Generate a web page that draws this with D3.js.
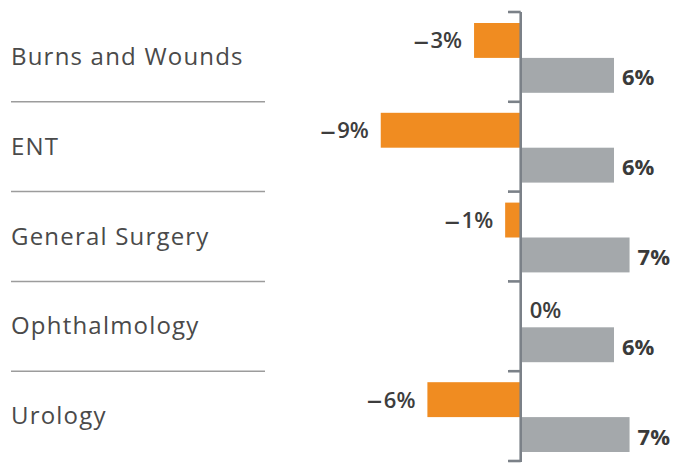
<!DOCTYPE html>
<html><head><meta charset="utf-8">
<script src="https://cdn.jsdelivr.net/npm/d3@7"></script>
<style>body{margin:0;background:#fff}svg{display:block}</style>
</head><body><svg id="c" width="676" height="463"></svg>
<script>
const categories = ["Burns and Wounds","ENT","General Surgery","Ophthalmology","Urology"];
const seriesNames = ["orange","grey"];
const orangeValues = [-3,-9,-1,0,-6];
const greyValues = [6,6,7,6,7];
const labelsOrange = ["\u20133%","\u20139%","\u20131%","0%","\u20136%"];
const labelsGrey = ["6%","6%","7%","6%","7%"];

const svg = d3.select("#c");
const font = "'Open Sans', Lato, sans-serif";
const axisX = 520.7;
const pxPer = 15.55;
const x = d3.scaleLinear().domain([-10, 8]).range([axisX - 10*pxPer, axisX + 8*pxPer]);
const y = d3.scaleBand().domain(categories).range([12, 461]).paddingInner(0);
const ys = d3.scaleBand().domain(seriesNames).range([11, y.bandwidth() - 9]).paddingInner(0);

// separators
const bounds = categories.slice(1).map(c => y(c));
svg.selectAll("line.sep").data(bounds).join("line")
  .attr("x1", 11).attr("x2", 265).attr("y1", d => d).attr("y2", d => d)
  .attr("stroke", "#9c9c9c").attr("stroke-width", 1.5);

// category labels
svg.selectAll("text.cat").data(categories).join("text")
  .attr("x", 11).attr("y", d => y(d) + y.bandwidth()/2 + 8)
  .attr("font-family", font).attr("font-size", 24).attr("letter-spacing", 1.2).attr("fill", "#4a4a4a")
  .text(d => d);

const rows = categories.map((c,i) => ({c, o: orangeValues[i], g: greyValues[i], lo: labelsOrange[i], lg: labelsGrey[i]}));

// orange bars
svg.selectAll("rect.o").data(rows.filter(d => d.o !== 0)).join("rect")
  .attr("x", d => x(d.o)).attr("width", d => x(0) - x(d.o))
  .attr("y", d => y(d.c) + ys("orange")).attr("height", ys.bandwidth())
  .attr("fill", "#F08C21");
// grey bars
svg.selectAll("rect.g").data(rows).join("rect")
  .attr("x", x(0)).attr("width", d => x(d.g) - x(0))
  .attr("y", d => y(d.c) + ys("grey")).attr("height", ys.bandwidth())
  .attr("fill", "#A4A8AB");

// axis
const ticks = categories.map(c => y(c)).concat([y.range()[1]]);
svg.append("line").attr("x1", axisX).attr("x2", axisX).attr("y1", 12).attr("y2", 462)
  .attr("stroke", "#7b8188").attr("stroke-width", 2.6);
svg.selectAll("line.tk").data(ticks).join("line")
  .attr("x1", 508).attr("x2", axisX).attr("y1", d => d).attr("y2", d => d)
  .attr("stroke", "#7b8188").attr("stroke-width", 2.6);

// value labels orange
const lo = svg.selectAll("text.lo").data(rows).join("text")
  .attr("x", d => d.o === 0 ? x(0) + 9 : x(d.o) - 12)
  .attr("y", d => y(d.c) + ys("orange") + ys.bandwidth()/2 + 8)
  .attr("text-anchor", d => d.o === 0 ? "start" : "end")
  .attr("font-family", font).attr("font-size", 22).attr("font-weight", 600).attr("fill", "#3d3d3d");
lo.each(function(d) {
  const t = d3.select(this);
  if (d.lo.startsWith("\u2013")) {
    t.append("tspan").attr("font-size", 31).attr("font-weight", 400).attr("dy", 2.5).text("\u2013");
    t.append("tspan").attr("dy", -2.5).attr("dx", 1.5).text(d.lo.slice(1));
  } else {
    t.text(d.lo);
  }
});
// value labels grey
svg.selectAll("text.lg").data(rows).join("text")
  .attr("x", d => x(d.g) + 8)
  .attr("y", d => y(d.c) + ys("grey") + ys.bandwidth()/2 + 10)
  .attr("font-family", font).attr("font-size", 22).attr("font-weight", 700).attr("fill", "#3a3a3a")
  .text(d => d.lg);
</script></body></html>
